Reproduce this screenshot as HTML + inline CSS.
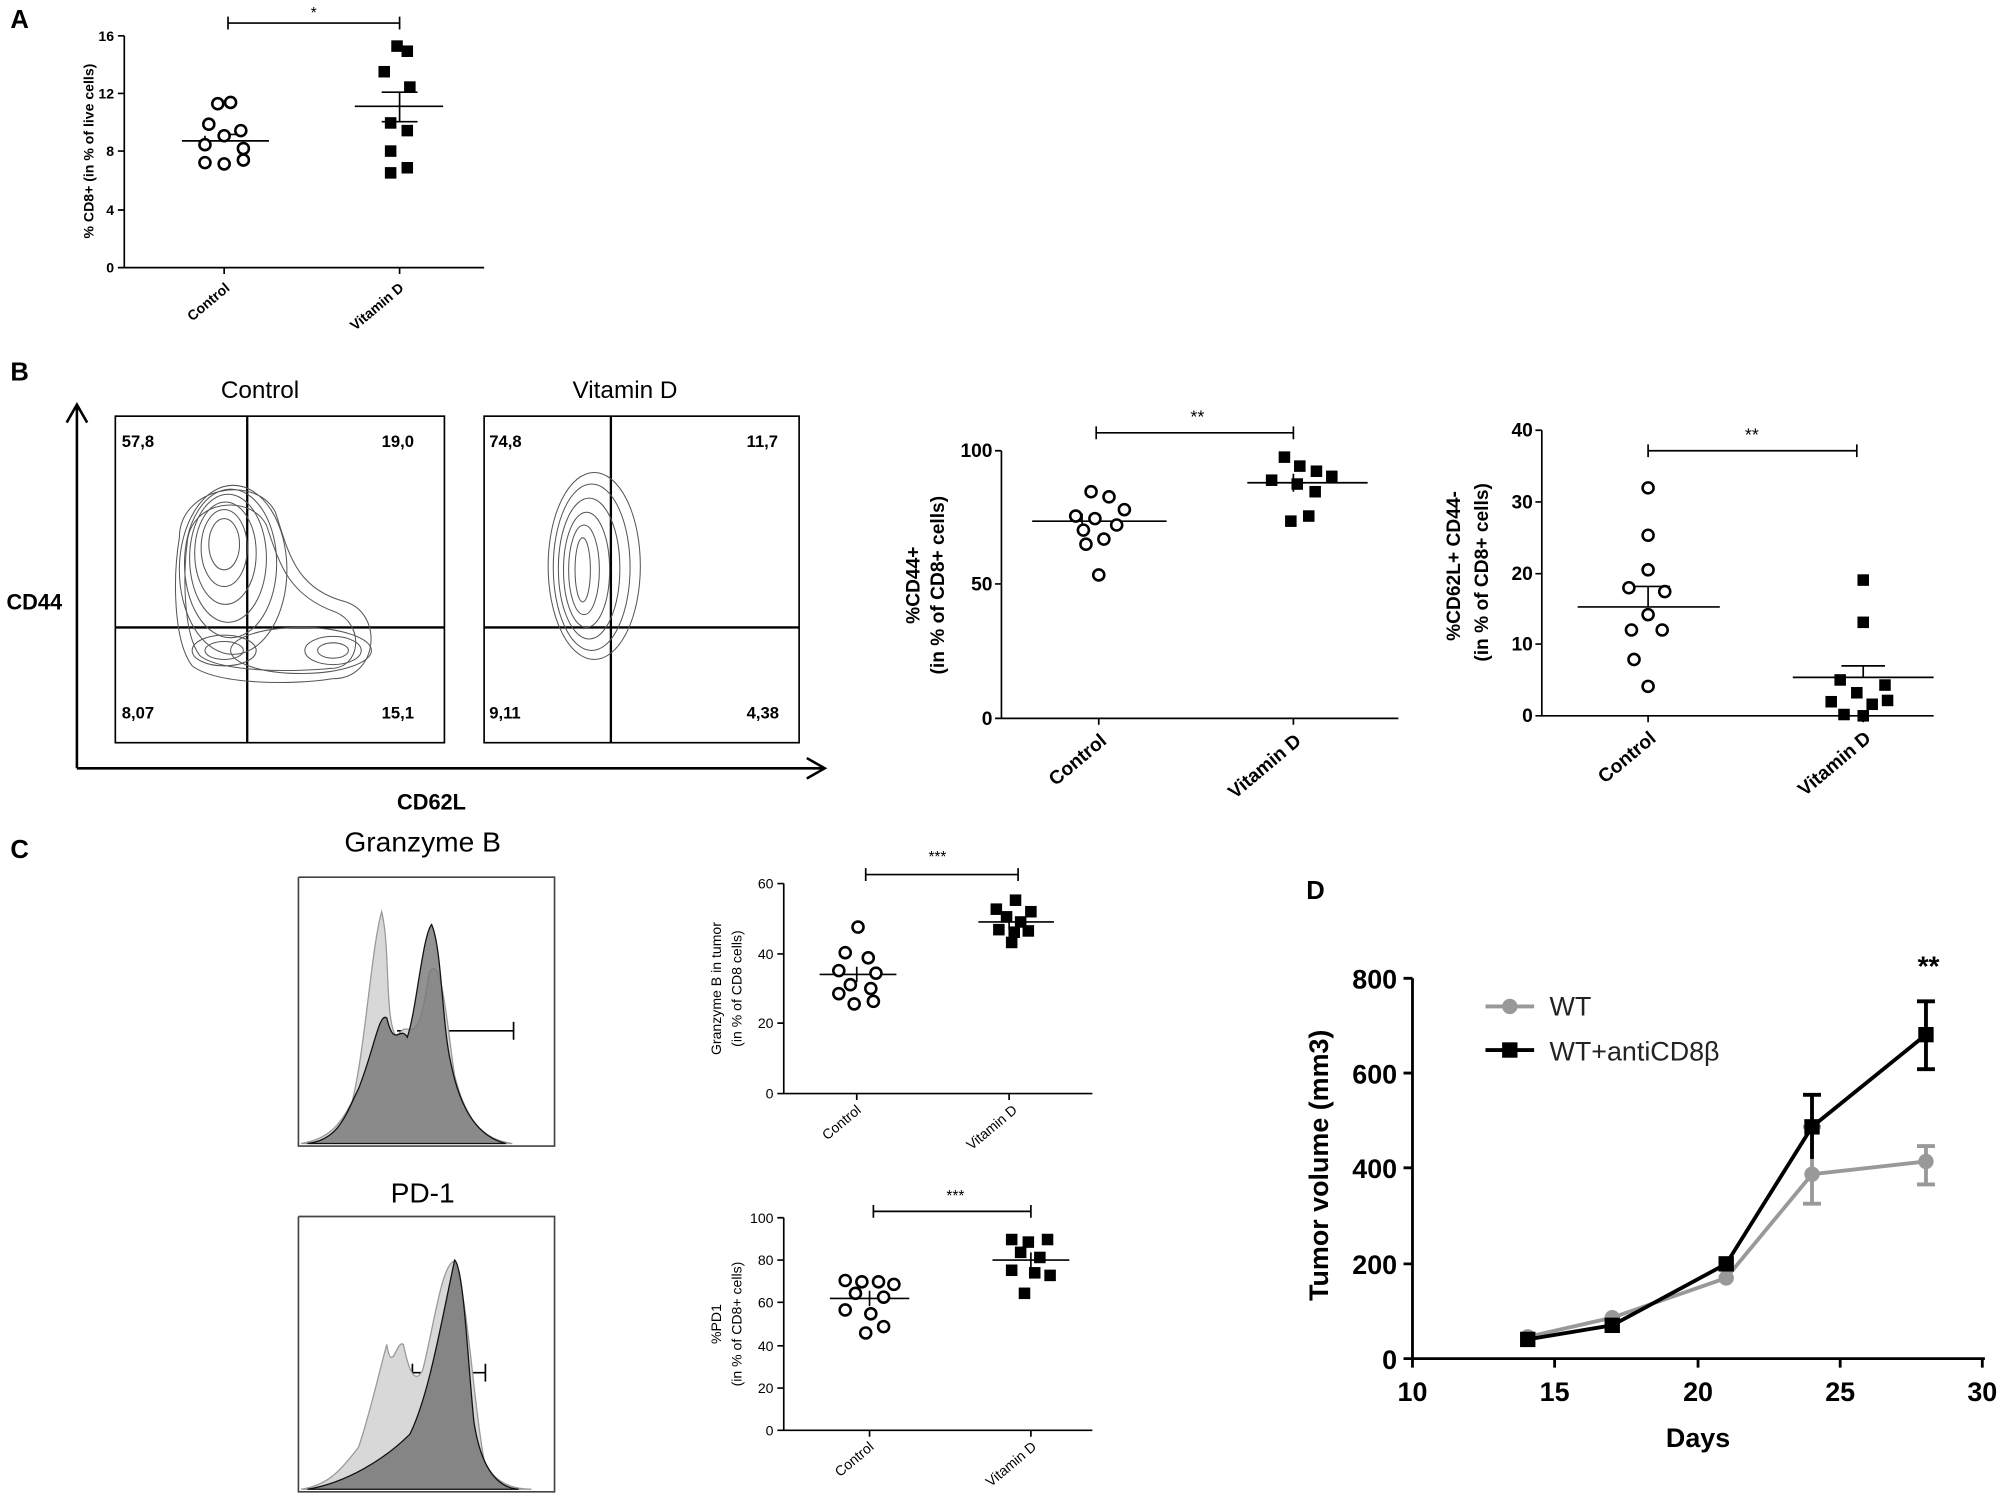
<!DOCTYPE html>
<html><head><meta charset="utf-8"><style>html,body{margin:0;padding:0;background:#fff}svg{display:block}text{font-family:"Liberation Sans",sans-serif}</style></head>
<body>
<svg width="2008" height="1511" viewBox="0 0 1568 1180" xmlns="http://www.w3.org/2000/svg">
<defs>
<g id="oc"><circle r="4.3" fill="#fff" stroke="#000" stroke-width="2"/></g>
<g id="sq"><rect x="-4.5" y="-4.5" width="9" height="9" fill="#000"/></g>
</defs>
<g stroke="#000" fill="none" stroke-width="1.3">
<path d="M97,28V209H378M92,28H97M92,73H97M92,118H97M92,164H97M92,209H97M175,209v5M312,209v5"/>
<path d="M178,13v10M178,18H312M312,13v10"/>
<path d="M142,110H210M160,106V114M175,105H190M277,83H346M312,72V95M298,72H326M298,95H326"/>
<path d="M60,600V318M52,330L60,316L68,330M60,600H642M630,592L644,600L630,608" stroke-width="2"/>
<rect x="90" y="325" width="257" height="255"/><rect x="378" y="325" width="246" height="255"/>
<path d="M193,325V580M90,490H347M477,325V580M378,490H624" stroke-width="1.8"/>
<path d="M782,352V561H1092M777,352H782M777,456H782M777,561H782M858,561v5M1010,561v5"/>
<path d="M856,333v10M856,338H1010M1010,333v10"/>
<path d="M806,407H911M845,401V413M974,377H1068M1010,370V384"/>
<path d="M1204,336V559H1510M1199,336H1204M1199,392H1204M1199,448H1204M1199,503H1204M1199,559H1204M1287,559v5M1455,559v5"/>
<path d="M1287,347v10M1287,352H1450M1450,347v10"/>
<path d="M1232,474H1343M1287,458V474M1270,458H1304M1400,529H1510M1455,520V529M1438,520H1472"/>
<path d="M233,685V895H433V685H233" stroke="#444"/>
<path d="M233,950V1165H433V950H233" stroke="#444"/>
<path d="M310,805H401M401,798V812M322,1072H379M322,1065V1079M379,1065V1079"/>
<path d="M612,690V854H853M607,690H612M607,745H612M607,799H612M607,854H612M669,854v5M788,854v5"/>
<path d="M676,678v10M676,683H795M795,678v10"/>
<path d="M640,761H700M669,755V767M764,720H823M788,714V726"/>
<path d="M612,951V1117H853M607,951H612M607,984H612M607,1017H612M607,1051H612M607,1084H612M607,1117H612M679,1117v5M805,1117v5"/>
<path d="M682,941v10M682,946H805M805,941v10"/>
<path d="M648,1014H710M679,1008V1020M775,984H835M805,978V990"/>
<path d="M1103,764V1061H1550M1096,764H1103M1096,838H1103M1096,912H1103M1096,987H1103M1096,1061H1103M1103,1061v7M1214,1061v7M1326,1061v7M1437,1061v7M1548,1061v7" stroke-width="2.2"/>
</g>
<g fill="none" stroke="#555" stroke-width="0.8">
<ellipse cx="175" cy="425" rx="12" ry="20"/><ellipse cx="175" cy="428" rx="18" ry="30"/><ellipse cx="176" cy="432" rx="24" ry="40"/><ellipse cx="178" cy="436" rx="30" ry="50"/><ellipse cx="180" cy="440" rx="36" ry="58"/><ellipse cx="182" cy="445" rx="42" ry="66"/>
<path d="M140,420C140,380,200,370,215,400C225,430,230,460,270,470C300,480,295,530,260,530C230,535,170,535,150,520C135,500,135,450,140,420Z"/>
<path d="M146,425C148,390,195,385,208,410C218,440,225,465,262,478C285,488,282,522,258,522C230,525,172,525,156,512C143,495,143,450,146,425Z"/>
<ellipse cx="175" cy="508" rx="25" ry="12"/><ellipse cx="175" cy="508" rx="15" ry="7"/>
<ellipse cx="260" cy="508" rx="22" ry="11"/><ellipse cx="260" cy="508" rx="12" ry="6"/><ellipse cx="235" cy="508" rx="55" ry="18"/>
<ellipse cx="455" cy="445" rx="6" ry="25"/><ellipse cx="456" cy="445" rx="12" ry="35"/><ellipse cx="458" cy="445" rx="18" ry="45"/><ellipse cx="460" cy="444" rx="24" ry="55"/><ellipse cx="462" cy="443" rx="30" ry="65"/><ellipse cx="464" cy="442" rx="36" ry="73"/>
</g>
<path d="M235,893C255,890,265,880,275,860C285,820,290,740,298,712C305,740,300,800,310,810C320,790,325,830,335,760C345,740,350,810,355,840C365,880,380,890,400,893Z" fill="#d8d8d8" stroke="#999"/>
<path d="M240,893C265,890,270,870,280,850C292,820,296,790,302,795C308,820,312,800,318,810C325,790,330,730,337,722C345,740,345,800,352,830C360,870,375,888,395,893Z" fill="#777" fill-opacity="0.8" stroke="#111"/>
<path d="M235,1163C255,1160,265,1150,280,1130C290,1100,295,1075,302,1050C306,1075,310,1045,315,1050C320,1075,325,1080,330,1070C338,1040,345,985,355,985C365,1010,370,1100,378,1140C385,1158,400,1163,415,1163Z" fill="#d8d8d8" stroke="#999"/>
<path d="M240,1163C270,1158,300,1140,320,1120C335,1090,345,1030,355,984C362,990,365,1060,370,1110C376,1150,390,1162,405,1163Z" fill="#777" fill-opacity="0.85" stroke="#111"/>
<g>
<use href="#oc" x="170" y="81"/><use href="#oc" x="180" y="80"/><use href="#oc" x="163" y="97"/><use href="#oc" x="188" y="102"/><use href="#oc" x="175" y="106"/><use href="#oc" x="160" y="113"/><use href="#oc" x="190" y="116"/><use href="#oc" x="160" y="127"/><use href="#oc" x="175" y="128"/><use href="#oc" x="190" y="125"/>
<use href="#sq" x="310" y="36"/><use href="#sq" x="318" y="40"/><use href="#sq" x="300" y="56"/><use href="#sq" x="320" y="68"/><use href="#sq" x="305" y="96"/><use href="#sq" x="318" y="102"/><use href="#sq" x="305" y="118"/><use href="#sq" x="318" y="131"/><use href="#sq" x="305" y="135"/>
</g>
<g>
<use href="#oc" x="852" y="384"/><use href="#oc" x="866" y="388"/><use href="#oc" x="878" y="398"/><use href="#oc" x="840" y="403"/><use href="#oc" x="855" y="405"/><use href="#oc" x="872" y="410"/><use href="#oc" x="846" y="414"/><use href="#oc" x="862" y="421"/><use href="#oc" x="848" y="425"/><use href="#oc" x="858" y="449"/>
<use href="#sq" x="1003" y="357"/><use href="#sq" x="1015" y="364"/><use href="#sq" x="1028" y="368"/><use href="#sq" x="1040" y="372"/><use href="#sq" x="993" y="375"/><use href="#sq" x="1013" y="378"/><use href="#sq" x="1027" y="384"/><use href="#sq" x="1008" y="407"/><use href="#sq" x="1022" y="403"/>
</g>
<g>
<use href="#oc" x="1287" y="381"/><use href="#oc" x="1287" y="418"/><use href="#oc" x="1287" y="445"/><use href="#oc" x="1272" y="459"/><use href="#oc" x="1300" y="462"/><use href="#oc" x="1287" y="480"/><use href="#oc" x="1274" y="492"/><use href="#oc" x="1298" y="492"/><use href="#oc" x="1276" y="515"/><use href="#oc" x="1287" y="536"/>
<use href="#sq" x="1455" y="453"/><use href="#sq" x="1455" y="486"/><use href="#sq" x="1437" y="531"/><use href="#sq" x="1472" y="535"/><use href="#sq" x="1450" y="541"/><use href="#sq" x="1430" y="548"/><use href="#sq" x="1462" y="550"/><use href="#sq" x="1440" y="558"/><use href="#sq" x="1455" y="559"/><use href="#sq" x="1474" y="547"/>
</g>
<g>
<use href="#oc" x="670" y="724"/><use href="#oc" x="660" y="744"/><use href="#oc" x="678" y="748"/><use href="#oc" x="655" y="758"/><use href="#oc" x="684" y="760"/><use href="#oc" x="664" y="769"/><use href="#oc" x="680" y="772"/><use href="#oc" x="655" y="776"/><use href="#oc" x="667" y="784"/><use href="#oc" x="682" y="782"/>
<use href="#sq" x="793" y="703"/><use href="#sq" x="778" y="710"/><use href="#sq" x="805" y="712"/><use href="#sq" x="786" y="716"/><use href="#sq" x="797" y="720"/><use href="#sq" x="780" y="726"/><use href="#sq" x="803" y="727"/><use href="#sq" x="790" y="736"/><use href="#sq" x="792" y="728"/>
</g>
<g>
<use href="#oc" x="660" y="1000"/><use href="#oc" x="673" y="1001"/><use href="#oc" x="686" y="1001"/><use href="#oc" x="698" y="1003"/><use href="#oc" x="668" y="1010"/><use href="#oc" x="690" y="1013"/><use href="#oc" x="660" y="1023"/><use href="#oc" x="680" y="1026"/><use href="#oc" x="690" y="1036"/><use href="#oc" x="676" y="1041"/>
<use href="#sq" x="790" y="968"/><use href="#sq" x="803" y="970"/><use href="#sq" x="818" y="968"/><use href="#sq" x="797" y="978"/><use href="#sq" x="812" y="982"/><use href="#sq" x="790" y="992"/><use href="#sq" x="808" y="994"/><use href="#sq" x="820" y="996"/><use href="#sq" x="800" y="1010"/>
</g>
<g stroke="#999" stroke-width="3" fill="none"><path d="M1193,1044L1259,1029L1348,998L1415,917L1504,907"/><path d="M1415,880V940M1408,880h14M1408,940h14M1504,895V925M1497,895h14M1497,925h14"/></g>
<g fill="#999"><circle cx="1193" cy="1044" r="6"/><circle cx="1259" cy="1029" r="6"/><circle cx="1348" cy="998" r="6"/><circle cx="1415" cy="917" r="6"/><circle cx="1504" cy="907" r="6"/></g>
<g stroke="#000" stroke-width="3" fill="none"><path d="M1193,1046L1259,1035L1348,987L1415,880L1504,808"/><path d="M1415,855V905M1408,855h14M1504,782V835M1497,782h14M1497,835h14"/></g>
<g fill="#000"><rect x="1187" y="1040" width="12" height="12"/><rect x="1253" y="1029" width="12" height="12"/><rect x="1342" y="981" width="12" height="12"/><rect x="1409" y="874" width="12" height="12"/><rect x="1498" y="802" width="12" height="12"/></g>
<path d="M1160,786H1198" stroke="#999" stroke-width="3"/><circle cx="1179" cy="786" r="6" fill="#999"/>
<path d="M1160,820H1198" stroke="#000" stroke-width="3"/><rect x="1173" y="814" width="12" height="12"/>
<g font-weight="bold" font-size="20"><text x="8" y="22">A</text><text x="8" y="297">B</text><text x="8" y="670">C</text><text x="1020" y="702">D</text></g>
<g font-size="11" font-weight="bold" text-anchor="end"><text x="89" y="32">16</text><text x="89" y="77">12</text><text x="89" y="122">8</text><text x="89" y="168">4</text><text x="89" y="213">0</text></g>
<text x="245" y="14" font-size="12" text-anchor="middle">*</text>
<text transform="translate(73,118) rotate(-90)" font-size="11" font-weight="bold" text-anchor="middle">% CD8+ (in % of live cells)</text>
<g font-size="11" font-weight="bold" text-anchor="end"><text transform="translate(180,226) rotate(-40)">Control</text><text transform="translate(316,226) rotate(-40)">Vitamin D</text></g>
<g font-size="19"><text x="203" y="311" text-anchor="middle">Control</text><text x="488" y="311" text-anchor="middle">Vitamin D</text></g>
<g font-size="17" font-weight="bold"><text x="5" y="476">CD44</text><text x="310" y="632">CD62L</text></g>
<g font-size="13" font-weight="bold"><text x="95" y="349">57,8</text><text x="298" y="349">19,0</text><text x="95" y="561">8,07</text><text x="298" y="561">15,1</text><text x="382" y="349">74,8</text><text x="583" y="349">11,7</text><text x="382" y="561">9,11</text><text x="583" y="561">4,38</text></g>
<g font-size="15" font-weight="bold" text-anchor="end"><text x="775" y="357">100</text><text x="775" y="461">50</text><text x="775" y="566">0</text><text x="1197" y="341">40</text><text x="1197" y="397">30</text><text x="1197" y="453">20</text><text x="1197" y="508">10</text><text x="1197" y="564">0</text></g>
<text x="935" y="330" font-size="14" text-anchor="middle">**</text><text x="1368" y="344" font-size="14" text-anchor="middle">**</text>
<g font-size="15" font-weight="bold" text-anchor="middle"><text transform="translate(718,457) rotate(-90)">%CD44+</text><text transform="translate(737,457) rotate(-90)">(in % of CD8+ cells)</text><text transform="translate(1140,442) rotate(-90)">%CD62L+ CD44-</text><text transform="translate(1162,447) rotate(-90)">(in % of CD8+ cells)</text></g>
<g font-size="15" font-weight="bold" text-anchor="end"><text transform="translate(865,580) rotate(-40)">Control</text><text transform="translate(1017,580) rotate(-40)">Vitamin D</text><text transform="translate(1294,578) rotate(-40)">Control</text><text transform="translate(1462,578) rotate(-40)">Vitamin D</text></g>
<g font-size="22"><text x="330" y="665" text-anchor="middle">Granzyme B</text><text x="330" y="939" text-anchor="middle">PD-1</text></g>
<g font-size="11" text-anchor="end"><text x="604" y="694">60</text><text x="604" y="749">40</text><text x="604" y="803">20</text><text x="604" y="858">0</text><text x="604" y="955">100</text><text x="604" y="988">80</text><text x="604" y="1021">60</text><text x="604" y="1055">40</text><text x="604" y="1088">20</text><text x="604" y="1121">0</text></g>
<text x="732" y="673" font-size="12" text-anchor="middle">***</text><text x="746" y="938" font-size="12" text-anchor="middle">***</text>
<g font-size="11" text-anchor="middle"><text transform="translate(563,772) rotate(-90)">Granzyme B in tumor</text><text transform="translate(579,772) rotate(-90)">(in % of CD8 cells)</text><text transform="translate(563,1034) rotate(-90)">%PD1</text><text transform="translate(579,1034) rotate(-90)">(in % of CD8+ cells)</text></g>
<g font-size="11" text-anchor="end"><text transform="translate(673,868) rotate(-40)">Control</text><text transform="translate(795,868) rotate(-40)">Vitamin D</text><text transform="translate(683,1131) rotate(-40)">Control</text><text transform="translate(810,1131) rotate(-40)">Vitamin D</text></g>
<g font-size="21" font-weight="bold" text-anchor="end"><text x="1091" y="772">800</text><text x="1091" y="846">600</text><text x="1091" y="920">400</text><text x="1091" y="995">200</text><text x="1091" y="1069">0</text></g>
<g font-size="21" font-weight="bold" text-anchor="middle"><text x="1103" y="1094">10</text><text x="1214" y="1094">15</text><text x="1326" y="1094">20</text><text x="1437" y="1094">25</text><text x="1548" y="1094">30</text><text x="1326" y="1130">Days</text><text transform="translate(1037,910) rotate(-90)">Tumor volume (mm3)</text></g>
<text x="1506" y="762" font-size="22" font-weight="bold" text-anchor="middle">**</text>
<g font-size="21" fill="#222"><text x="1210" y="793">WT</text><text x="1210" y="828">WT+antiCD8β</text></g>
</svg>
</body></html>
